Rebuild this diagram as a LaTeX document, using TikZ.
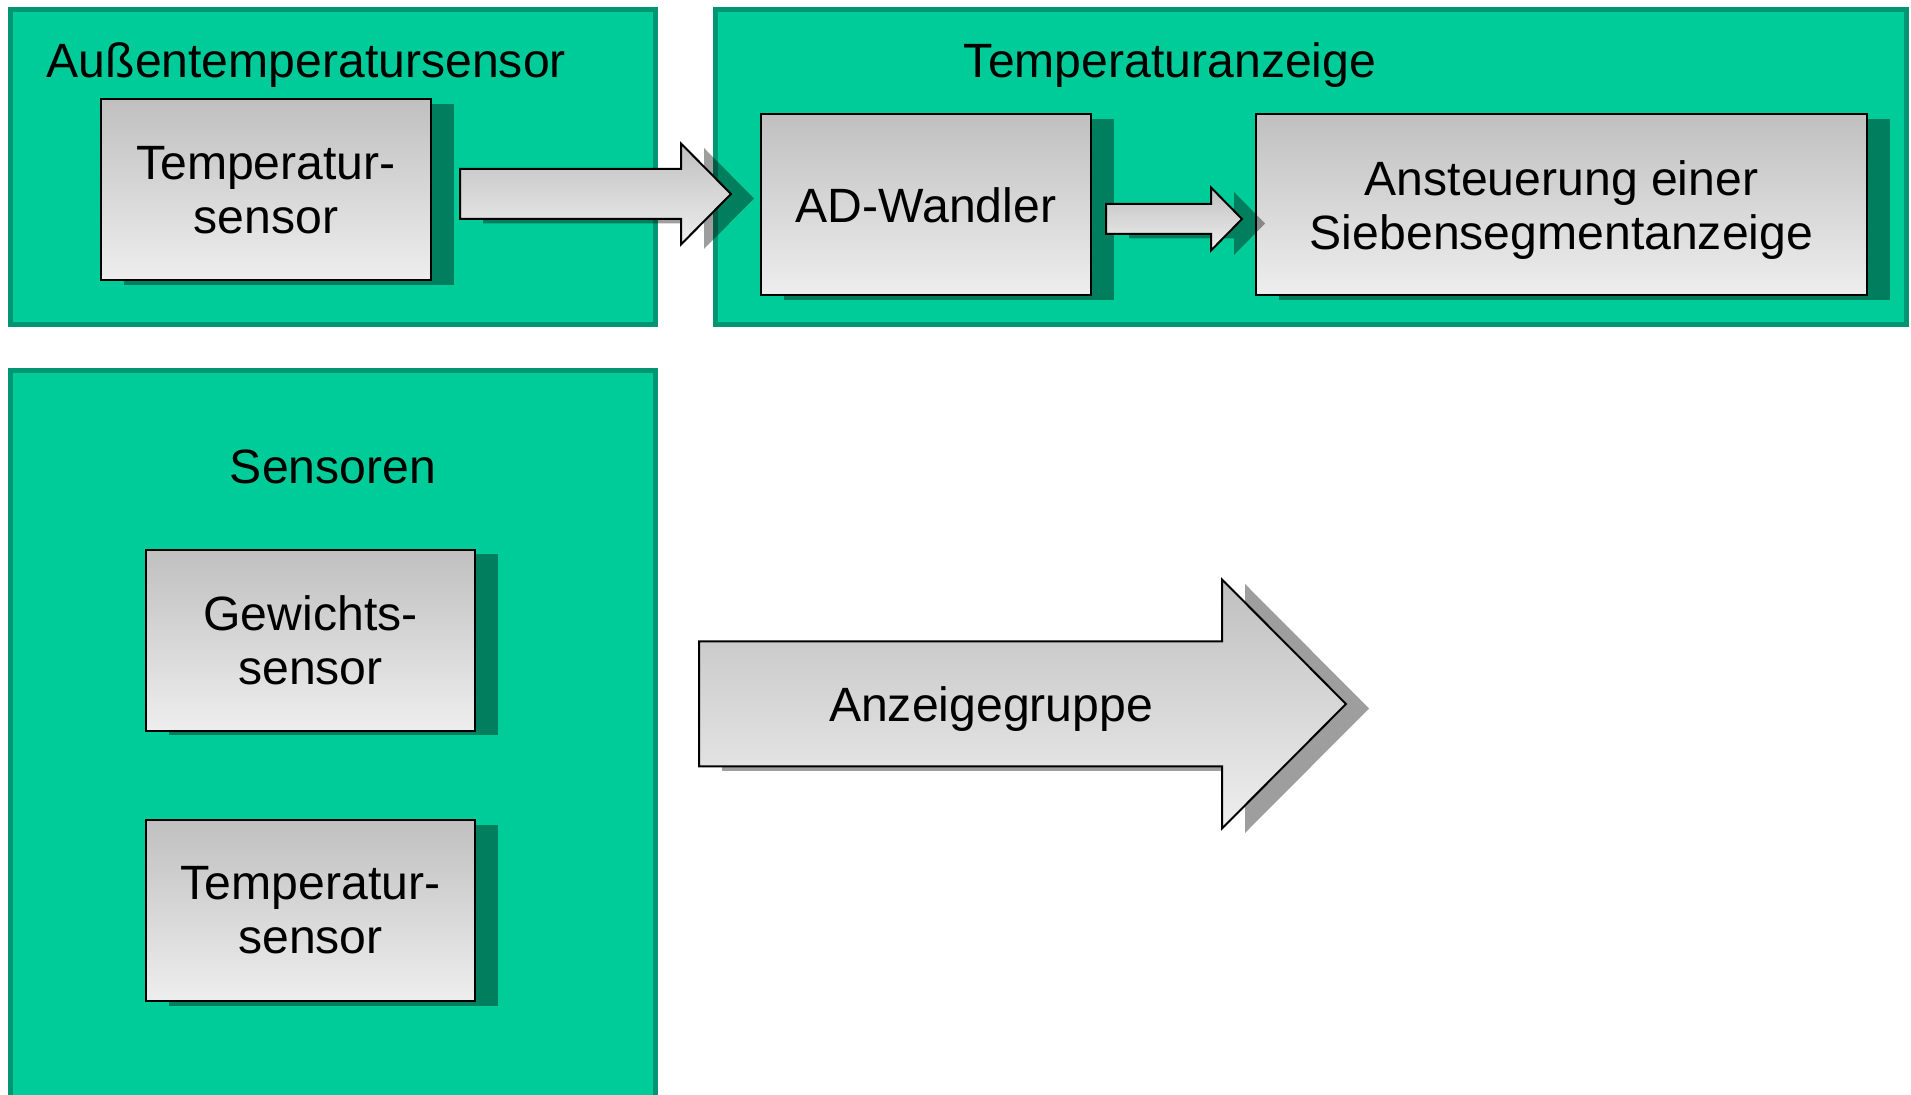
\documentclass[tikz,border=0pt]{standalone}
\usepackage{fontspec}
\setmainfont{Liberation Sans}
\usepackage{xcolor}
\usetikzlibrary{calc, shadows}

\definecolor{grpfill}{RGB}{0,204,153}
\definecolor{grpedge}{RGB}{0,150,115}
\definecolor{boxtop}{RGB}{192,192,192}
\definecolor{boxbottom}{RGB}{238,238,238}

% horizontal block arrow: start, tip, shaft half width, head half width, head length
\newcommand{\blockarrow}[5]{%
  \draw[blk] ($(#1)+(0,#3)$) -- ($(#2)+(-#5,#3)$) -- ($(#2)+(-#5,#4)$) -- (#2)
    -- ($(#2)+(-#5,-#4)$) -- ($(#2)+(-#5,-#3)$) -- ($(#1)+(0,-#3)$) -- cycle;}

\begin{document}
\begin{tikzpicture}[
    font=\fontsize{13.7pt}{15.4pt}\selectfont,
    grp/.style={draw=grpedge, line width=0.05cm, fill=grpfill},
    title/.style={inner sep=0pt, anchor=base},
    shade3d/.style={drop shadow={shadow xshift=0.23cm, shadow yshift=-0.045cm, fill=black, opacity=0.38}},
    blockbox/.style={draw, line width=0.02cm, top color=boxtop, bottom color=boxbottom, minimum height=1.81cm, align=center, shade3d},
    blk/.style={draw, line width=0.02cm, top color=boxtop, bottom color=boxbottom, shade3d},
]
\useasboundingbox (0,0) rectangle (19.11,-10.95);
\clip (0,0) rectangle (19.11,-10.95);

\draw[grp] (0.105,-0.095) rectangle (6.555,-3.245);
\draw[grp] (7.155,-0.095) rectangle (19.065,-3.245);
\draw[grp] (0.105,-3.705) rectangle (6.555,-11.2);

\node[title, anchor=base west] (outtitle) at (0.46,-0.78) {Außentemperatursensor};
\node[title] (disptitle) at (11.70,-0.78) {Temperaturanzeige};
\node[title] (senstitle) at (3.33,-4.84) {Sensoren};

\node[blockbox, minimum width=3.30cm] (outsens) at (2.66,-1.90) {Temperatur-\\sensor};
\node[blockbox, minimum width=3.30cm] (adconv) at (9.26,-2.05) {AD-Wandler};
\node[blockbox, minimum width=6.11cm, text depth=0pt] (segdrv) at (15.615,-2.05) {Ansteuerung einer\\Siebensegmentanzeige};
\node[blockbox, minimum width=3.29cm] (weightsens) at (3.105,-6.405) {Gewichts-\\sensor};
\node[blockbox, minimum width=3.29cm] (tempsens) at (3.105,-9.105) {Temperatur-\\sensor};

\coordinate (a1s) at ($(outsens.east)+(0.28,-0.04)$);
\coordinate (a1t) at ($(adconv.west)+(-0.29,0.11)$);
\blockarrow{a1s}{a1t}{0.25}{0.505}{0.50}

\coordinate (a2s) at ($(adconv.east)+(0.14,-0.14)$);
\coordinate (a2t) at ($(segdrv.west)+(-0.13,-0.14)$);
\blockarrow{a2s}{a2t}{0.15}{0.315}{0.31}

\coordinate (grpstart) at (6.99,-7.04);
\coordinate (grptip) at (13.46,-7.04);
\blockarrow{grpstart}{grptip}{0.625}{1.245}{1.24}
\node[title] (grplabel) at (9.91,-7.21) {Anzeigegruppe};

\end{tikzpicture}
\end{document}
